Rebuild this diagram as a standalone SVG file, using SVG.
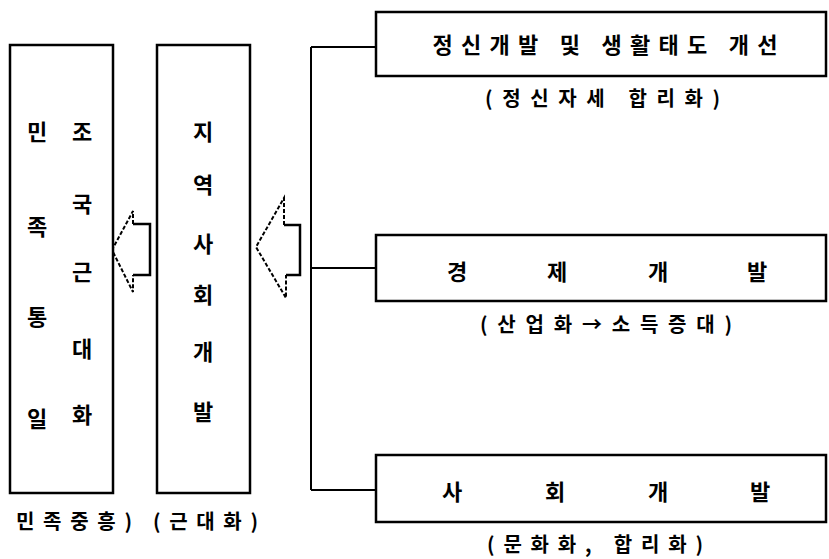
<svg xmlns="http://www.w3.org/2000/svg" width="829" height="559" viewBox="0 0 829 559">
<style>
.box{fill:#fff;stroke:#000;stroke-width:2.5}
.t{font-family:"Noto Sans CJK KR","Noto Sans",sans-serif;font-size:22px;font-weight:bold;fill:#000;text-anchor:middle;dominant-baseline:central}
.l{font-family:"Noto Sans CJK KR","Noto Sans",sans-serif;font-size:20px;font-weight:bold;fill:#000;dominant-baseline:central}
.c{fill:none;stroke:#000;stroke-width:2}
.head{fill:none;stroke:#000;stroke-width:2;stroke-dasharray:4,2}
.shaft{fill:none;stroke:#000;stroke-width:2.5}
</style>
<rect width="829" height="559" fill="#fff"/>
<g id="connectors">
<line class="c" x1="311" y1="47" x2="311" y2="490" stroke="#2a8a2a"/>
<line class="c" x1="311" y1="47" x2="377" y2="47"/>
<line class="c" x1="311" y1="268" x2="377" y2="268"/>
<line class="c" x1="311" y1="490" x2="377" y2="490"/>
<path class="head" d="M133,224 L133,211 L112,250 L133,292 L133,275"/>
<path class="shaft" d="M133,224 L150,224 L150,275 L133,275"/>
<path class="head" d="M284,225 L284,198 L256,247 L286,298 L286,275"/>
<path class="shaft" d="M284,225 L300,225 L300,275 L286,275"/>
</g>
<g id="node-left">
<rect class="box" x="10" y="45" width="103" height="448"/>
<text class="t" x="37" y="130">민</text>
<text class="t" x="37" y="225">족</text>
<text class="t" x="37" y="315">통</text>
<text class="t" x="37" y="417">일</text>
<text class="t" x="82" y="130">조</text>
<text class="t" x="82" y="202">국</text>
<text class="t" x="82" y="270">근</text>
<text class="t" x="82" y="347">대</text>
<text class="t" x="82" y="413">화</text>
<text class="l" x="16" y="520" textLength="116" lengthAdjust="spacing">민족중흥)</text>
</g>
<g id="node-mid">
<rect class="box" x="157" y="45" width="93" height="448"/>
<text class="t" x="203" y="130">지</text>
<text class="t" x="203" y="183">역</text>
<text class="t" x="203" y="242">사</text>
<text class="t" x="203" y="293">회</text>
<text class="t" x="203" y="350">개</text>
<text class="t" x="203" y="410">발</text>
<text class="l" x="153" y="520" textLength="105" lengthAdjust="spacing">(근대화)</text>
</g>
<g id="node-top">
<rect class="box" x="376" y="12" width="450" height="64"/>
<text class="t" x="605" y="43" textLength="345" lengthAdjust="spacing">정신개발 및 생활태도 개선</text>
<text class="l" x="485" y="97" textLength="235" lengthAdjust="spacing">(정신자세 합리화)</text>
</g>
<g id="node-econ">
<rect class="box" x="376" y="235" width="450" height="66"/>
<text class="t" x="457" y="270">경</text>
<text class="t" x="557" y="270">제</text>
<text class="t" x="658" y="270">개</text>
<text class="t" x="757" y="270">발</text>
<text class="l" x="480" y="323" textLength="252" lengthAdjust="spacing">(산업화→소득증대)</text>
</g>
<g id="node-social">
<rect class="box" x="376" y="455" width="450" height="67"/>
<text class="t" x="452" y="490">사</text>
<text class="t" x="555" y="490">회</text>
<text class="t" x="658" y="490">개</text>
<text class="t" x="760" y="490">발</text>
<text class="l" x="487" y="543" textLength="216" lengthAdjust="spacing">(문화화, 합리화)</text>
</g>
</svg>
